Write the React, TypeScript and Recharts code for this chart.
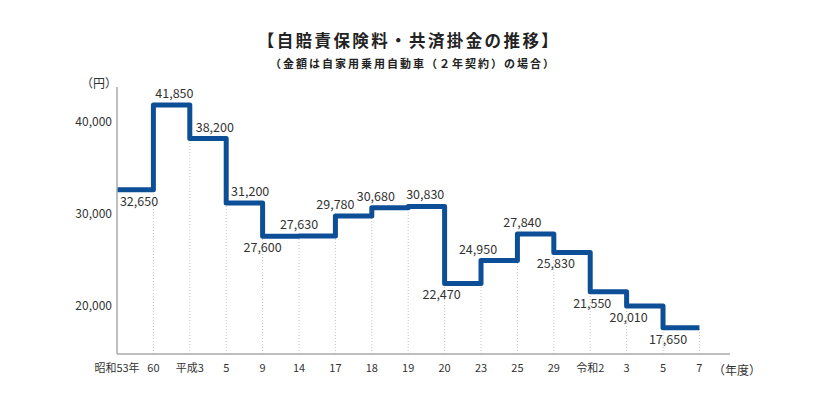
import {
  LineChart,
  Line,
  XAxis,
  YAxis,
  ReferenceLine,
  LabelList,
} from "recharts";

// ─── Data ────────────────────────────────────────────────────────────────────

const YEAR_LABELS = [
  "昭和53年", "60", "平成3", "5", "9", "14", "17", "18", "19",
  "20", "23", "25", "29", "令和2", "3", "5", "7",
];

// premium for the period that starts at each year label (円)
const PREMIUMS = [
  32650, 41850, 38200, 31200, 27600, 27630, 29780, 30680,
  30830, 22470, 24950, 27840, 25830, 21550, 20010, 17650,
];

const Y_TICKS = [20000, 30000, 40000];

// ─── Label layout (where each value label sits relative to its step) ─────────

const LABEL_SIDE = [
  "below", "above", "above", "above", "below", "above", "above", "above",
  "above", "below", "above", "above", "below", "below", "below", "below",
];
const LABEL_DX = [22, 21, 25, 24, 0, 0, 0, 4, 17, -3, -3, 5, 2, 2, 2, 5];

const LINE_COLOR = "#0c4f96";
const TEXT_COLOR = "#333";
const FONT = "'Noto Sans CJK JP', 'Noto Sans', sans-serif";

const chartData = YEAR_LABELS.map((_, i) => ({
  x: i,
  v: PREMIUMS[Math.min(i, PREMIUMS.length - 1)],
}));

const Y_MIN = 14800;

function ValueLabel(props: any) {
  const { x, y, value, index } = props;
  if (index >= PREMIUMS.length) return null;
  const above = LABEL_SIDE[index] === "above";
  return (
    <text
      x={x + LABEL_DX[index]}
      y={above ? y - 7 : y + 16}
      textAnchor="middle"
      fontSize={12.5}
      fill={TEXT_COLOR}
      fontFamily={FONT}
    >
      {Number(value).toLocaleString("en-US")}
    </text>
  );
}

export default function App() {
  return (
    <div
      style={{
        position: "absolute",
        left: 0,
        top: 0,
        width: 820,
        height: 401,
        background: "#fff",
        fontFamily: FONT,
        color: TEXT_COLOR,
      }}
    >
      <div
        style={{
          position: "absolute",
          left: 0,
          top: 28,
          width: 818,
          textAlign: "center",
          fontSize: 16.5,
          fontWeight: 700,
          letterSpacing: 2.4,
          color: "#222",
        }}
      >
        【自賠責保険料・共済掛金の推移】
      </div>
      <div
        style={{
          position: "absolute",
          left: 0,
          top: 55,
          width: 826,
          textAlign: "center",
          fontSize: 11,
          fontWeight: 700,
          letterSpacing: 2,
          color: "#222",
        }}
      >
        （金額は自家用乗用自動車（２年契約）の場合）
      </div>
      <div
        style={{
          position: "absolute",
          left: 81,
          top: 74,
          fontSize: 12,
        }}
      >
        （円）
      </div>
      <div
        style={{
          position: "absolute",
          left: 713,
          top: 361,
          fontSize: 12,
        }}
      >
        （年度）
      </div>

      <LineChart
        width={820}
        height={401}
        data={chartData}
        margin={{ top: 87, right: 90, bottom: 17, left: 0 }}
      >
        {chartData.slice(1).map((d) => (
          <ReferenceLine
            key={d.x}
            segment={[
              { x: d.x, y: Y_MIN },
              { x: d.x, y: Math.min(d.v, chartData[d.x - 1].v) },
            ]}
            stroke="#b5b5b5"
            strokeWidth={0.8}
            strokeDasharray="1 2"
          />
        ))}
        <XAxis
          dataKey="x"
          type="number"
          domain={[0, 16.84]}
          ticks={YEAR_LABELS.map((_, i) => i)}
          tickFormatter={(i: number) => YEAR_LABELS[i] ?? ""}
          interval={0}
          height={30}
          tickLine={false}
          tickSize={0}
          tickMargin={10}
          axisLine={{ stroke: "#aaa", strokeWidth: 1.5 }}
          tick={{ fontSize: 11, fill: TEXT_COLOR, fontFamily: FONT }}
        />
        <YAxis
          type="number"
          domain={[Y_MIN, 43800]}
          ticks={Y_TICKS}
          tickFormatter={(v: number) => v.toLocaleString("en-US")}
          width={117}
          tickLine={false}
          tickSize={0}
          tickMargin={5}
          axisLine={{ stroke: "#aaa", strokeWidth: 1.5 }}
          tick={{ fontSize: 12, fill: TEXT_COLOR, fontFamily: FONT }}
        />
        <Line
          type="stepAfter"
          dataKey="v"
          stroke={LINE_COLOR}
          strokeWidth={5}
          strokeLinejoin="round"
          dot={false}
          isAnimationActive={false}
        >
          <LabelList dataKey="v" content={<ValueLabel />} />
        </Line>
      </LineChart>
    </div>
  );
}
